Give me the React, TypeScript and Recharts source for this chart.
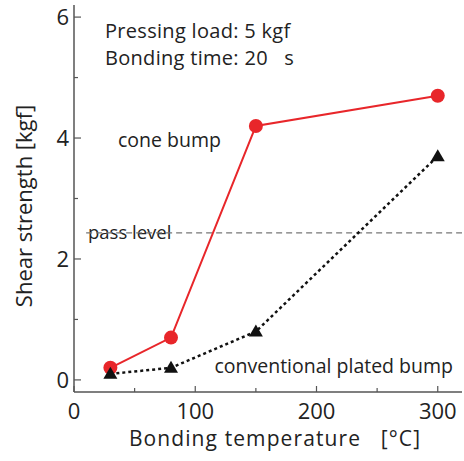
import React from 'react';
import {
  LineChart,
  Line,
  XAxis,
  YAxis,
  ReferenceLine,
  Customized,
} from 'recharts';

// values
const temperatures = [30, 80, 150, 300];
const coneBump = [0.2, 0.7, 4.2, 4.7];
const platedBump = [0.1, 0.2, 0.8, 3.7];
const passLevel = 2.43;
const xTicks = [0, 50, 100, 150, 200, 250, 300];
const yTicks = [0, 1, 2, 3, 4, 5, 6];

const chartData = temperatures.map((t, i) => ({
  temp: t,
  cone: coneBump[i],
  plated: platedBump[i],
}));

const FONT = '"Open Sans", sans-serif';
const FRAME = '#555';

const BottomTick = ({ x, y, payload }: any) => {
  const major = payload.value % 100 === 0;
  return (
    <g>
      <line x1={x} x2={x} y1={y} y2={y - (major ? 6 : 4)} stroke={FRAME} strokeWidth={1.2} />
      {major && (
        <text x={x} y={y + 27} textAnchor="middle" fontSize={22} fontFamily={FONT} fill="#222">
          {payload.value}
        </text>
      )}
    </g>
  );
};

const TopTick = ({ x, y, payload }: any) => {
  const major = payload.value % 100 === 0;
  return <line x1={x} x2={x} y1={y} y2={y + (major ? 6 : 4)} stroke={FRAME} strokeWidth={1.2} />;
};

const LeftTick = ({ x, y, payload }: any) => {
  const major = payload.value % 2 === 0;
  return (
    <g>
      <line x1={x} x2={x + (major ? 7 : 4)} y1={y} y2={y} stroke={FRAME} strokeWidth={1.2} />
      {major && (
        <text x={x - 5} y={y + 8} textAnchor="end" fontSize={22} fontFamily={FONT} fill="#222">
          {payload.value}
        </text>
      )}
    </g>
  );
};

const RightTick = ({ x, y, payload }: any) => {
  const major = payload.value % 2 === 0;
  return <line x1={x} x2={x - (major ? 7 : 4)} y1={y} y2={y} stroke={FRAME} strokeWidth={1.2} />;
};

const Triangle = ({ cx, cy }: any) => {
  if (cx == null || cy == null) return null;
  return (
    <polygon
      points={`${cx - 7},${cy + 5} ${cx + 7},${cy + 5} ${cx},${cy - 7}`}
      fill="#111"
    />
  );
};

const Annotations = () => (
  <g fontFamily={FONT} fill="#222">
    <text x={105} y={38} fontSize={20} letterSpacing={0.3}>Pressing load: 5 kgf</text>
    <text x={105} y={65} fontSize={20} letterSpacing={0.3}>Bonding time: 20&#160;&#160;&#160;s</text>
    <text x={118} y={147} fontSize={19.5}>cone bump</text>
    <text x={88} y={239} fontSize={18.5}>pass level</text>
    <text x={453} y={373} fontSize={19.5} textAnchor="end">conventional plated bump</text>
    <text x={275} y={446} fontSize={21} letterSpacing={1.1} textAnchor="middle">
      Bonding temperature&#160;&#160;&#160;[°C]
    </text>
    <text x={32} y={206} fontSize={22} textAnchor="middle" transform="rotate(-90 32 206)">
      Shear strength [kgf]
    </text>
  </g>
);

export default function App() {
  return (
    <div style={{ position: 'absolute', left: 0, top: 0, width: 464, height: 461, background: '#fff' }}>
      <LineChart
        width={464}
        height={461}
        data={chartData}
        margin={{ top: 5, right: 2, left: 0, bottom: 0 }}
      >
        <XAxis
          dataKey="temp"
          type="number"
          domain={[0, 320]}
          ticks={xTicks}
          interval={0}
          height={69}
          tickSize={0}
          tickMargin={0}
          tick={<BottomTick />}
          axisLine={{ stroke: FRAME, strokeWidth: 1.5 }}
          allowDataOverflow
        />
        <XAxis
          xAxisId="top"
          orientation="top"
          type="number"
          domain={[0, 320]}
          ticks={xTicks}
          interval={0}
          height={0}
          tickSize={0}
          tickMargin={0}
          tick={<TopTick />}
          axisLine={{ stroke: FRAME, strokeWidth: 1.5 }}
          allowDataOverflow
        />
        <YAxis
          type="number"
          domain={[-0.2, 6.2]}
          ticks={yTicks}
          interval={0}
          width={74}
          tickSize={0}
          tickMargin={0}
          tick={<LeftTick />}
          axisLine={{ stroke: FRAME, strokeWidth: 1.5 }}
          allowDataOverflow
        />
        <YAxis
          yAxisId="right"
          orientation="right"
          type="number"
          domain={[-0.2, 6.2]}
          ticks={yTicks}
          interval={0}
          width={0}
          tickSize={0}
          tickMargin={0}
          tick={<RightTick />}
          axisLine={{ stroke: FRAME, strokeWidth: 1.5 }}
          allowDataOverflow
        />
        <ReferenceLine
          segment={[{ x: 10, y: passLevel }, { x: 320, y: passLevel }]}
          stroke="#777"
          strokeWidth={1.3}
          strokeDasharray="6 4"
        />
        <Line
          dataKey="cone"
          stroke="#e8262a"
          strokeWidth={2}
          dot={{ r: 7, fill: '#e8262a', stroke: '#e8262a', strokeWidth: 0 }}
          isAnimationActive={false}
        />
        <Line
          dataKey="plated"
          stroke="#111"
          strokeWidth={2.5}
          strokeDasharray="3 3"
          dot={<Triangle />}
          isAnimationActive={false}
        />
        <Customized component={Annotations} />
      </LineChart>
    </div>
  );
}
